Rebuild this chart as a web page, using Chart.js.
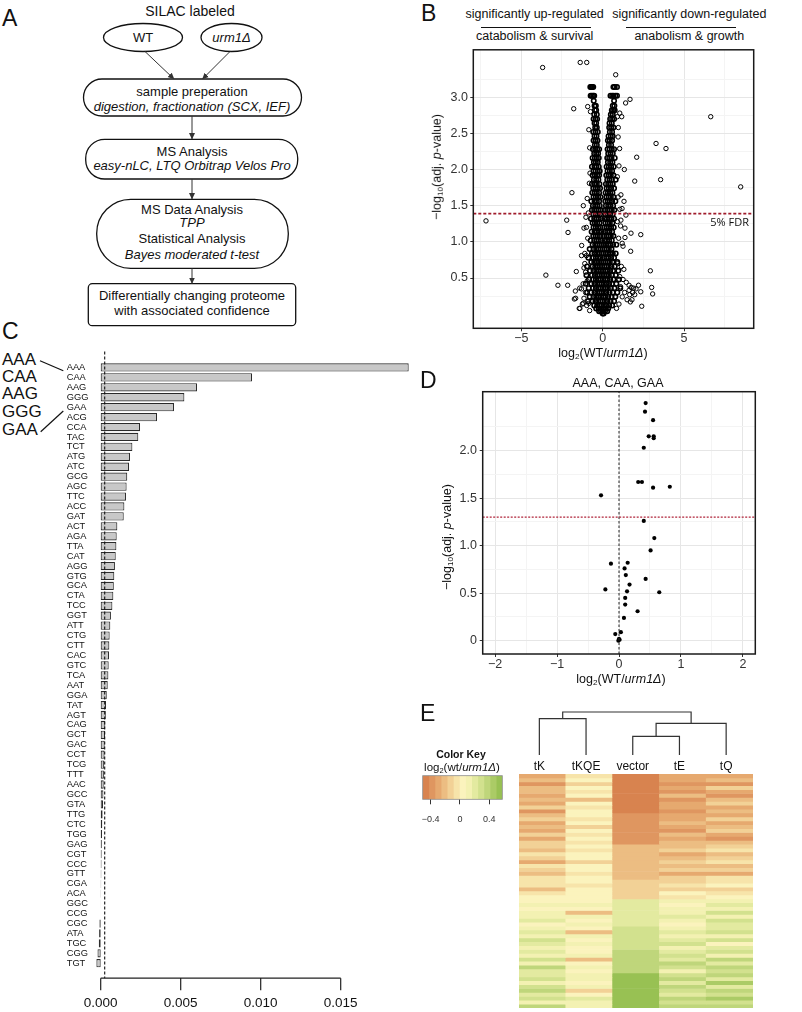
<!DOCTYPE html>
<html>
<head>
<meta charset="utf-8">
<script src="https://cdn.jsdelivr.net/npm/chart.js@4.4.1/dist/chart.umd.min.js"></script>
<style>
  body { margin: 0; background: #fff; }
  #page { position: relative; width: 802px; height: 1012px; overflow: hidden; background: #fff;
          font-family: 'Liberation Sans', Arial, sans-serif; color: #111; }
  canvas, svg { position: absolute; }
  .t { position: absolute; white-space: nowrap; line-height: 1; }
  .c { transform: translate(-50%, -50%); }
  .r { transform: translate(-50%, -50%) rotate(-90deg); }
  .letter { font-size: 23px; }
  sub { font-size: 0.65em; vertical-align: -0.3em; line-height: 0; }
  .rule { position: absolute; height: 0; border-top: 1.3px solid #111; }
</style>
</head>
<body>
<div id="page">

  <!-- ── Panel A: workflow ─────────────────────────────────────────── -->
  <div class="t letter" style="left:2px;top:7px">A</div>
  <svg style="left:0;top:0" width="400" height="330" font-family="'Liberation Sans', Arial, sans-serif" font-size="13" text-anchor="middle" fill="#111">
    <defs>
      <marker id="ah" markerWidth="7" markerHeight="7" refX="6" refY="3.5" orient="auto" markerUnits="userSpaceOnUse">
        <path d="M0,0.5 L6.5,3.5 L0,6.5 z" fill="#333"/>
      </marker>
    </defs>
    <g fill="none" stroke="#111" stroke-width="1.3">
      <ellipse cx="143" cy="37.5" rx="39.5" ry="14"/>
      <ellipse cx="231.5" cy="37.5" rx="30.5" ry="14"/>
      <rect x="83.5" y="79" width="218" height="37" rx="18.5"/>
      <rect x="85.7" y="139.3" width="212" height="39.7" rx="19"/>
      <rect x="96.7" y="199.3" width="191.6" height="69" rx="34"/>
      <rect x="88.3" y="283.7" width="207.4" height="42" rx="4"/>
    </g>
    <g stroke="#333" stroke-width="1" marker-end="url(#ah)">
      <line x1="145" y1="51.5" x2="174" y2="79"/>
      <line x1="230" y1="51.5" x2="202.5" y2="79"/>
      <line x1="192" y1="116" x2="192" y2="139"/>
      <line x1="192" y1="179" x2="192" y2="199"/>
      <line x1="192" y1="268.3" x2="192" y2="283.5"/>
    </g>
    <text x="190" y="16" font-size="14">SILAC labeled</text>
    <text x="143" y="42">WT</text>
    <text x="231.5" y="42" font-style="italic">urm1Δ</text>
    <text x="192" y="95.5">sample preperation</text>
    <text x="192" y="110.5" font-style="italic">digestion, fractionation (SCX, IEF)</text>
    <text x="192" y="156">MS Analysis</text>
    <text x="192" y="170" font-style="italic">easy-nLC, LTQ Orbitrap Velos Pro</text>
    <text x="192" y="213.5">MS Data Analysis</text>
    <text x="192" y="227" font-style="italic">TPP</text>
    <text x="192" y="242.5">Statistical Analysis</text>
    <text x="192" y="258.5" font-style="italic">Bayes moderated t-test</text>
    <text x="192" y="300">Differentially changing proteome</text>
    <text x="192" y="315">with associated confidence</text>
  </svg>

  <!-- ── Panel B: volcano ─────────────────────────────────────────── -->
  <div class="t letter" style="left:421px;top:2px">B</div>
  <div class="t c" style="left:534.7px;top:13.5px;font-size:12.5px">significantly up-regulated</div>
  <div class="t c" style="left:689.3px;top:13.5px;font-size:12.5px">significantly down-regulated</div>
  <div class="rule" style="left:481px;top:26.5px;width:110px"></div>
  <div class="rule" style="left:625.7px;top:26.5px;width:110.3px"></div>
  <div class="t c" style="left:534.7px;top:35.5px;font-size:12.5px">catabolism &amp; survival</div>
  <div class="t c" style="left:689.3px;top:35.5px;font-size:12.5px">anabolism &amp; growth</div>
  <canvas id="chartB" width="402" height="330" style="left:400px;top:40px"></canvas>
  <div class="t r" style="left:436.7px;top:167px;font-size:12.5px">−log<sub>10</sub>(adj. <i>p</i>-value)</div>
  <div class="t c" style="left:603px;top:353px;font-size:12.5px">log<sub>2</sub>(WT/<i>urm1Δ</i>)</div>
  <div class="t" style="right:53px;top:216px;font-size:11px;font-family:'Open Sans',sans-serif">5% FDR</div>

  <!-- ── Panel C: codon bars ──────────────────────────────────────── -->
  <div class="t letter" style="left:2px;top:320px">C</div>
  <svg style="left:0;top:340px" width="70" height="110" font-family="'Liberation Sans', Arial, sans-serif" font-size="17" fill="#111">
    <text x="2" y="25">AAA</text>
    <text x="2" y="42.3">CAA</text>
    <text x="2" y="59.3">AAG</text>
    <text x="2" y="77.3">GGG</text>
    <text x="2" y="95">GAA</text>
    <line x1="40" y1="20.7" x2="63.3" y2="30.7" stroke="#111" stroke-width="1.2"/>
    <line x1="40.7" y1="91.7" x2="63.3" y2="71" stroke="#111" stroke-width="1.2"/>
  </svg>
  <canvas id="chartC" width="420" height="672" style="left:0;top:340px"></canvas>

  <!-- ── Panel D: codon subset volcano ────────────────────────────── -->
  <div class="t letter" style="left:420px;top:369px">D</div>
  <div class="t c" style="left:618px;top:383px;font-size:12.5px">AAA, CAA, GAA</div>
  <canvas id="chartD" width="402" height="320" style="left:400px;top:370px"></canvas>
  <div class="t r" style="left:446.7px;top:536.7px;font-size:12.5px">−log<sub>10</sub>(adj. <i>p</i>-value)</div>
  <div class="t c" style="left:621px;top:679px;font-size:12.5px">log<sub>2</sub>(WT/<i>urm1Δ</i>)</div>

  <!-- ── Panel E: heatmap ─────────────────────────────────────────── -->
  <div class="t letter" style="left:420px;top:702px">E</div>
  <div class="t c" style="left:461px;top:754px;font-size:10.5px;font-weight:bold">Color Key</div>
  <div class="t c" style="left:462px;top:768px;font-size:11.5px">log<sub>2</sub>(wt/<i>urm1Δ</i>)</div>
  <canvas id="chartKey" width="95" height="60" style="left:415px;top:770px"></canvas>
  <canvas id="chartDendro" width="250" height="72" style="left:512px;top:705px"></canvas>
  <canvas id="chartE" width="234" height="234" style="left:519px;top:774px"></canvas>
</div>

<script>
// ── Data: panel B (volcano, all quantified proteins) ────────────────────────
const volcanoOutliers = [
  [-7.17,1.29],[-3.69,3.41],[-1.38,3.48],[-0.98,3.48],[0.80,3.31],[1.68,2.97],[1.41,2.92],[-1.78,2.84],
  [-0.92,2.87],[6.64,2.73],[1.17,2.73],[0.90,2.73],[0.96,2.58],[3.28,2.36],[3.89,2.29],[1.04,2.29],
  [2.09,2.17],[1.33,2.00],[1.97,1.84],[3.56,1.86],[8.48,1.76],[-0.82,1.81],[-1.89,1.68],[1.12,1.65],
  [1.31,1.56],[-1.19,1.50],[1.19,1.46],[-2.21,1.30],[-1.03,1.34],[1.12,1.30],[1.43,1.37],[-2.13,1.13],
  [-1.15,1.19],[1.37,1.19],[2.34,1.10],[1.74,1.12],[1.37,1.06],[-1.29,0.95],[1.25,0.94],[1.72,0.87],
  [-1.10,0.84],[-1.00,0.81],[-1.30,0.81],[-1.62,0.59],[-3.49,0.54],[2.93,0.60],[-1.15,0.64],[-1.05,0.58],
  [-2.75,0.40],[-2.15,0.40],[-1.68,0.32],[-1.41,0.36],[-1.74,0.21],[-1.44,0.08],[-1.20,0.15],[-0.85,0.15],
  [1.62,0.40],[1.75,0.37],[1.90,0.36],[2.20,0.40],[2.05,0.35],[2.34,0.31],[3.01,0.37],[3.07,0.28],
  [1.62,0.33],[1.84,0.30],[1.66,0.27],[1.97,0.27],[1.80,0.20],[1.70,0.17],[2.40,0.11],[-1.66,0.22],
  [-1.40,0.08],[0.95,1.62],[1.05,1.45],[0.90,1.28],[1.10,1.22],[0.98,1.05],[1.20,0.98],[0.92,0.70],
  [1.15,0.66],[1.30,0.62],[1.05,0.52],[1.25,0.48],[1.45,0.44],[1.10,0.38],[1.35,0.30],[1.20,0.24],
  [1.50,0.20],[1.00,0.14],[0.85,0.08],[-0.95,1.60],[-0.88,1.40],[-1.00,1.20],[-0.92,1.05],[-1.10,0.70],
  [-0.95,0.46],[-1.20,0.42],[-1.30,0.35],[-1.05,0.30],[-1.15,0.22],[-0.98,0.12],[-1.25,0.14],[-0.80,0.05],
  [-0.85,2.55],[-0.80,2.30],[0.95,2.45],[1.00,2.05],[-0.78,1.95],[0.90,1.90],[-0.75,2.80],[1.05,2.78]
];
// dense core: each row is [y, x1, x2, ...]
const volcanoCore = [
  [3.14, -0.76,-0.70,-0.64,-0.58, 0.66,0.74,0.88],
  [3.02, -0.74,-0.66,-0.58,-0.52, 0.48,0.58,0.66,0.78,0.88],
  [2.95, -0.55, 0.70],
  [2.88, -0.50,-0.42, 0.62,0.72],
  [2.82, -0.48,-0.40, 0.56,0.64,0.74],
  [2.76, -0.52,-0.36, 0.50,0.62],
  [2.70, -0.56,-0.44,-0.34, 0.46,0.58,0.70],
  [2.64, -0.50,-0.40, 0.42,0.56],
  [2.58, -0.46,-0.36, 0.40,0.52,0.66],
  [2.52, -0.58,-0.44,-0.30, 0.44,0.58],
  [2.46, -0.50,-0.38, 0.36,0.50,0.62],
  [2.40, -0.56,-0.44,-0.32, 0.32,0.44,0.58],
  [2.34, -0.48,-0.36, 0.38,0.52],
  [2.28, -0.60,-0.46,-0.34,-0.22, 0.30,0.42,0.56,0.70],
  [2.22, -0.52,-0.40,-0.28, 0.34,0.48,0.62],
  [2.16, -0.62,-0.48,-0.36,-0.24, 0.28,0.40,0.54,0.74],
  [2.10, -0.54,-0.42,-0.30, 0.32,0.46,0.60],
  [2.04, -0.66,-0.50,-0.38,-0.24, 0.24,0.38,0.52,0.68],
  [1.98, -0.56,-0.44,-0.30,-0.18, 0.30,0.44,0.58],
  [1.92, -0.62,-0.48,-0.34,-0.22, 0.22,0.36,0.50,0.66],
  [1.86, -0.54,-0.40,-0.26, 0.28,0.42,0.56,0.80],
  [1.80, -0.66,-0.50,-0.36,-0.20, 0.20,0.34,0.48,0.62],
  [1.74, -0.58,-0.44,-0.30,-0.16, 0.24,0.38,0.52,0.70],
  [1.68, -0.64,-0.50,-0.36,-0.22, 0.18,0.32,0.46,0.60],
  [1.62, -0.56,-0.42,-0.28,-0.14, 0.22,0.36,0.50,0.66],
  [1.56, -0.70,-0.50,-0.36,-0.22, 0.16,0.30,0.44,0.58,0.78],
  [1.50, -0.60,-0.46,-0.32,-0.18, 0.20,0.34,0.48,0.64],
  [1.44, -0.66,-0.52,-0.38,-0.24,-0.12, 0.14,0.28,0.42,0.56,0.72],
  [1.38, -0.58,-0.44,-0.30,-0.16, 0.18,0.32,0.46,0.62],
  [1.32, -0.72,-0.52,-0.38,-0.24,-0.10, 0.12,0.26,0.40,0.54,0.70],
  [1.26, -0.62,-0.48,-0.34,-0.20, 0.16,0.30,0.44,0.60],
  [1.20, -0.56,-0.42,-0.28,-0.14, 0.10,0.24,0.38,0.52,0.68],
  [1.14, -0.68,-0.50,-0.36,-0.22,-0.08, 0.14,0.28,0.42,0.58],
  [1.08, -0.58,-0.44,-0.30,-0.16, 0.08,0.22,0.36,0.50,0.66],
  [1.02, -0.74,-0.52,-0.38,-0.24,-0.10, 0.12,0.26,0.40,0.56],
  [0.96, -0.62,-0.46,-0.32,-0.18,-0.06, 0.06,0.20,0.34,0.48,0.64,0.84],
  [0.90, -0.80,-0.56,-0.40,-0.26,-0.12, 0.10,0.24,0.38,0.54],
  [0.84, -0.66,-0.50,-0.34,-0.20,-0.06, 0.04,0.18,0.32,0.46,0.62,0.80],
  [0.78, -0.88,-0.58,-0.42,-0.28,-0.14, 0.08,0.22,0.36,0.52,0.70],
  [0.72, -0.70,-0.52,-0.36,-0.22,-0.08, 0.04,0.16,0.30,0.44,0.60,0.90],
  [0.66, -0.96,-0.62,-0.46,-0.30,-0.16,-0.04, 0.10,0.24,0.38,0.54,0.74],
  [0.60, -0.78,-0.56,-0.40,-0.24,-0.10, 0.02,0.16,0.30,0.46,0.64,0.96],
  [0.54, -1.00,-0.66,-0.48,-0.32,-0.18,-0.04, 0.08,0.22,0.38,0.56,0.80],
  [0.48, -0.84,-0.58,-0.42,-0.26,-0.12, 0.02,0.16,0.30,0.46,0.66,1.00],
  [0.42, -1.04,-0.70,-0.50,-0.34,-0.20,-0.06, 0.08,0.24,0.40,0.58,0.84],
  [0.36, -0.86,-0.60,-0.42,-0.26,-0.12, 0.02,0.16,0.32,0.50,0.72,1.08],
  [0.30, -0.96,-0.70,-0.50,-0.34,-0.20,-0.06, 0.08,0.24,0.42,0.62,0.90],
  [0.24, -0.80,-0.56,-0.40,-0.24,-0.10, 0.04,0.18,0.34,0.54,0.78],
  [0.18, -0.90,-0.62,-0.44,-0.28,-0.14, 0.00,0.14,0.30,0.48,0.70],
  [0.12, -0.52,-0.34,-0.18,-0.06, 0.08,0.22,0.40,0.58],
  [0.08, -0.40,-0.24,-0.10, 0.04,0.18,0.34],
  [0.04, -0.22,-0.10, 0.02,0.14,0.28],
  [0.01, 0.00,0.06]
];
const fdrB = 1.39;
const xLimB = [-7.95, 9.28];
const yLimB = [-0.195, 3.655];
const xMajorB = [-5, 0, 5];
const xMinorB = [-7.5, -2.5, 2.5, 7.5];
const yMajorB = [0.5, 1, 1.5, 2, 2.5, 3];
const yMinorB = [0.25, 0.75, 1.25, 1.75, 2.25, 2.75, 3.25];

// ── Data: panel C (codon enrichment) ───────────────────────────────────────
const codons = ['AAA','CAA','AAG','GGG','GAA','ACG','CCA','TAC','TCT','ATG','ATC','GCG','AGC','TTC','ACC','GAT',
  'ACT','AGA','TTA','CAT','AGG','GTG','GCA','CTA','TCC','GGT','ATT','CTG','CTT','CAC','GTC','TCA','AAT','GGA',
  'TAT','AGT','CAG','GCT','GAC','CCT','TCG','TTT','AAC','GCC','GTA','TTG','CTC','TGG','GAG','CGT','CCC','GTT',
  'CGA','ACA','GGC','CCG','CGC','ATA','TGC','CGG','TGT'];
const codonShift = [0.01925,0.00946,0.00602,0.00523,0.00458,0.00352,0.00246,0.00235,0.00198,0.00183,0.00177,
  0.00166,0.00162,0.00158,0.00148,0.00144,0.00104,0.00100,0.00098,0.00094,0.00089,0.00085,0.00082,0.00079,
  0.00073,0.00064,0.00060,0.00056,0.00054,0.00052,0.00050,0.00048,0.00044,0.00038,0.00033,0.00032,0.00029,
  0.00027,0.00025,0.00024,0.00022,0.00020,0.00019,0.00017,0.00015,0.00012,0.00010,0.00008,0.00007,0.00006,
  0.00005,0.00004,0.00003,0.00002,0.00001,0.000005,-0.00008,-0.00010,-0.00012,-0.00020,-0.00027];
const dashValueC = 0.00025;
const ticksC = [0, 0.005, 0.010, 0.015];
const xLimC = [-0.0004, 0.0195];

// ── Data: panel D (AAA, CAA, GAA proteins) ─────────────────────────────────
const codonFC = [0.43,0.42,0.55,0.48,0.56,0.56,0.40,0.31,0.37,0.55,0.82,-0.29,0.40,0.57,0.51,0.14,-0.13,
  0.09,0.11,0.43,0.17,-0.22,0.13,0.65,0.10,0.10,0.30,0.08,-0.06,0.03,0.00,-0.01,0.01];
const codonP = [2.50,2.41,2.32,2.15,2.15,2.13,2.03,1.67,1.67,1.61,1.62,1.53,1.26,1.08,0.95,0.82,0.81,
  0.76,0.69,0.65,0.59,0.54,0.52,0.51,0.45,0.38,0.31,0.24,0.07,0.09,0.02,0.00,0.01];
const fdrD = 1.30;
const xLimD = [-2.2, 2.2];
const yLimD = [-0.14, 2.62];
const xMajorD = [-2, -1, 0, 1, 2];
const xMinorD = [-1.5, -0.5, 0.5, 1.5];
const yMajorD = [0, 0.5, 1, 1.5, 2];
const yMinorD = [0.25, 0.75, 1.25, 1.75, 2.25];

// ── Data: panel E (heatmap) ────────────────────────────────────────────────
const heatLabels = ['tK', 'tKQE', 'vector', 'tE', 'tQ'];
const heatTK = [-0.30,-0.22,-0.38,-0.25,-0.18,-0.33,-0.21,-0.28,-0.14,-0.36,
  -0.24,-0.12,-0.31,-0.19,-0.26,-0.10,-0.34,-0.17,
  -0.13,-0.22,-0.08,-0.16,-0.27,-0.06,-0.12,-0.20,-0.04,
  -0.09,-0.02,-0.18,-0.05,0.02,
  0.06,0.12,0.03,0.16,0.09,0.20,0.05,
  0.14,0.22,0.10,0.26,0.17,0.08,
  0.20,0.11,0.28,0.15,0.34,0.22,
  0.18,0.30,0.12,0.26,0.36,0.21,0.32,0.16,0.40];
const heatTKQE = [-0.06,0.02,-0.12,0.05,-0.03,0.03,-0.20,0.01,-0.05,0.06,
  0.00,-0.08,0.04,-0.14,0.02,-0.02,0.05,-0.06,
  0.03,-0.04,0.06,0.01,-0.10,0.04,0.00,-0.03,0.05,
  0.02,-0.05,0.07,0.01,0.04,
  0.06,0.10,0.03,-0.18,0.08,0.04,0.12,
  0.05,-0.22,0.09,0.03,0.14,0.06,
  0.02,0.10,-0.25,0.07,0.13,0.04,
  0.08,0.15,0.03,0.11,-0.12,0.06,0.18,0.09,0.13];
const heatVector = [-0.47,-0.47,-0.47,-0.47,-0.47,-0.47,-0.47,-0.47,-0.47,-0.47,
  -0.36,-0.36,-0.36,-0.36,-0.36,-0.36,-0.36,-0.36,
  -0.24,-0.24,-0.24,-0.24,-0.24,-0.24,-0.24,-0.24,-0.24,
  -0.14,-0.14,-0.14,-0.14,-0.14,
  0.20,0.20,0.20,0.20,0.20,0.20,0.20,
  0.30,0.30,0.30,0.30,0.30,0.30,
  0.38,0.38,0.38,0.38,0.38,0.38,
  0.50,0.50,0.50,0.50,0.50,0.50,0.50,0.50,0.50];
const heatTE = [-0.33,-0.28,-0.40,-0.30,-0.36,-0.25,-0.38,-0.31,-0.27,-0.35,
  -0.26,-0.32,-0.20,-0.29,-0.36,-0.22,-0.28,-0.18,
  -0.22,-0.14,-0.26,-0.18,-0.10,-0.24,-0.16,-0.30,-0.12,
  -0.10,-0.04,-0.16,0.00,-0.08,
  0.10,0.04,0.16,0.08,0.20,0.12,0.06,
  0.14,0.24,0.10,0.20,0.28,0.16,
  0.22,0.30,0.18,0.34,0.26,0.14,
  0.26,0.34,0.20,0.38,0.30,0.24,0.40,0.32,0.36];
const heatTQ = [-0.30,-0.20,-0.36,-0.14,-0.26,-0.40,-0.22,-0.10,-0.32,-0.18,
  -0.28,-0.16,-0.34,-0.24,-0.12,-0.30,-0.38,-0.20,
  -0.16,-0.08,-0.22,-0.12,-0.04,-0.18,-0.10,-0.26,-0.06,
  -0.08,0.00,-0.14,-0.02,0.04,
  0.14,0.22,0.08,0.26,0.12,0.30,0.18,
  0.20,0.32,0.12,0.26,0.06,0.22,
  0.28,0.16,0.36,0.22,0.40,0.30,
  0.34,0.24,0.42,0.18,0.36,0.28,0.44,0.32,0.38];
// dendrogram merges: [x of left child, height of left child, x of right child, height of right child, merge height]
const dendroMerges = [
  [2, 0, 3, 0, 0.435],
  [2.5, 0.435, 4, 0, 0.737],
  [0, 0, 1, 0, 0.844],
  [0.5, 0.844, 3.25, 0.737, 1.0]
];
const keyColors = ['#d8834f','#df9660','#e6a96f','#ecbd82','#f2d196','#f7e4aa','#fbf3bd',
  '#f3f1b2','#e3eaa0','#d2e18e','#bfd67b','#abcb66','#98c153'];
const keyMin = -0.51, keyMax = 0.58;
const keyTicks = [-0.4, 0, 0.4];

// ── Helpers ────────────────────────────────────────────────────────────────
Chart.defaults.font.family = "'Liberation Sans', Arial, sans-serif";
Chart.defaults.color = '#333';
Chart.defaults.animation = false;
Chart.defaults.plugins.legend.display = false;
Chart.defaults.plugins.tooltip.enabled = false;

const minus = v => (v < 0 ? '\u2212' + Math.abs(v) : String(v));
const keyStep = (keyMax - keyMin) / keyColors.length;

function colorFor(v) {
  const n = keyColors.length;
  let i = Math.floor((v - keyMin) / (keyMax - keyMin) * n);
  return keyColors[Math.max(0, Math.min(n - 1, i))];
}

// ggplot-like axis: major ticks labelled, minor ticks only as faint grid lines
function ggAxis(min, max, major, minor, fmt, sizeKey, size, pad) {
  const isMinor = c => c.tick && minor.includes(c.tick.value);
  return {
    type: 'linear', min, max,
    afterBuildTicks: ax => { ax.ticks = major.concat(minor).sort((a, b) => a - b).map(v => ({ value: v })); },
    afterFit: ax => { ax[sizeKey] = size; },
    ticks: { autoSkip: false, maxRotation: 0, color: '#333', font: { size: 12.5 }, padding: pad,
             callback: v => (major.includes(v) ? fmt(v) : '') },
    grid: { color: c => (isMinor(c) ? '#f4f4f4' : '#e6e6e6'),
            tickColor: c => (isMinor(c) ? 'rgba(0,0,0,0)' : '#333'), tickLength: 3, lineWidth: 1 },
    border: { display: false }
  };
}

// box around the plotting area
Chart.register({
  id: 'frame',
  afterDatasetsDraw(chart, args, opts) {
    if (!opts.color) return;
    const { left, top, right, bottom } = chart.chartArea;
    const ctx = chart.ctx;
    ctx.save();
    ctx.strokeStyle = opts.color;
    ctx.lineWidth = opts.width || 1;
    ctx.strokeRect(left, top, right - left, bottom - top);
    ctx.restore();
  }
});

// base-R style x axis and dashed reference line for panel C
const rAxisC = {
  id: 'rAxisC',
  afterDatasetsDraw(chart) {
    const { ctx, chartArea: a, scales: { x } } = chart;
    ctx.save();
    const px = x.getPixelForValue(dashValueC);
    ctx.setLineDash([3, 2]);
    ctx.lineWidth = 1.1;
    ctx.strokeStyle = '#111';
    ctx.beginPath();
    ctx.moveTo(px, a.top - 11);
    ctx.lineTo(px, a.bottom + 10);
    ctx.stroke();
    ctx.setLineDash([]);
    const y0 = a.bottom + 10;
    ctx.lineWidth = 1.2;
    ctx.strokeStyle = '#222';
    ctx.beginPath();
    ctx.moveTo(x.getPixelForValue(ticksC[0]), y0);
    ctx.lineTo(x.getPixelForValue(ticksC[ticksC.length - 1]), y0);
    ticksC.forEach(v => { const p = x.getPixelForValue(v); ctx.moveTo(p, y0); ctx.lineTo(p, y0 + 12); });
    ctx.stroke();
    ctx.fillStyle = '#111';
    ctx.font = "13.5px 'Liberation Sans', Arial, sans-serif";
    ctx.textAlign = 'center';
    ctx.textBaseline = 'middle';
    ticksC.forEach(v => ctx.fillText(v.toFixed(3), x.getPixelForValue(v), y0 + 25));
    ctx.restore();
  }
};

// ── Panel B ────────────────────────────────────────────────────────────────
const outlierPoints = volcanoOutliers.map(p => ({ x: p[0], y: p[1] }));
const corePoints = [];
volcanoCore.forEach(row => row.slice(1).forEach(x => corePoints.push({ x, y: row[0] })));

new Chart(document.getElementById('chartB'), {
  type: 'scatter',
  data: {
    datasets: [
      { data: corePoints, order: 2, pointRadius: 2.2, borderWidth: 1.6, borderColor: '#000',
        backgroundColor: 'rgba(0,0,0,0)' },
      { data: outlierPoints, order: 1, pointRadius: 2.2, borderWidth: 1, borderColor: '#000',
        backgroundColor: 'rgba(0,0,0,0)' },
      { data: [{ x: xLimB[0], y: fdrB }, { x: xLimB[1], y: fdrB }], order: 0, showLine: true,
        borderColor: '#a01c2c', borderWidth: 1.7, borderDash: [3, 2], pointRadius: 0 }
    ]
  },
  options: {
    responsive: false,
    layout: { padding: { top: 9, right: 48.3 } },
    plugins: { frame: { color: '#1a1a1a', width: 1.5 } },
    scales: {
      x: ggAxis(xLimB[0], xLimB[1], xMajorB, xMinorB, minus, 'height', 41.7, 0),
      y: ggAxis(yLimB[0], yLimB[1], yMajorB, yMinorB, v => v.toFixed(1), 'width', 73.3, 2.3)
    }
  }
});

// ── Panel C ────────────────────────────────────────────────────────────────
new Chart(document.getElementById('chartC'), {
  type: 'bar',
  data: {
    labels: codons,
    datasets: [{ data: codonShift, backgroundColor: '#c8c8c8', borderColor: '#2b2b2b', borderWidth: 1.1,
                 borderSkipped: false, barPercentage: 0.833, categoryPercentage: 1 }]
  },
  options: {
    indexAxis: 'y',
    responsive: false,
    layout: { padding: { left: 66.7, right: 7.3, top: 22.5, bottom: 43.8 } },
    scales: {
      x: { type: 'linear', display: false, min: xLimC[0], max: xLimC[1] },
      y: { afterFit: ax => { ax.width = 27.6; }, grid: { display: false, drawTicks: false },
           border: { display: false },
           ticks: { autoSkip: false, crossAlign: 'far', padding: 0, color: '#111', font: { size: 9.3 } } }
    }
  },
  plugins: [rAxisC]
});

// ── Panel D ────────────────────────────────────────────────────────────────
new Chart(document.getElementById('chartD'), {
  type: 'scatter',
  data: {
    datasets: [
      { data: codonFC.map((x, i) => ({ x, y: codonP[i] })), order: 2, pointRadius: 2.1, borderWidth: 0,
        backgroundColor: '#000' },
      { data: [{ x: 0, y: yLimD[0] }, { x: 0, y: yLimD[1] }], order: 1, showLine: true, borderColor: '#222',
        borderWidth: 1, borderDash: [2.5, 2], pointRadius: 0 },
      { data: [{ x: xLimD[0], y: fdrD }, { x: xLimD[1], y: fdrD }], order: 0, showLine: true,
        borderColor: '#b0243a', borderWidth: 1.3, borderDash: [2, 1.5], pointRadius: 0 }
    ]
  },
  options: {
    responsive: false,
    layout: { padding: { top: 21.7, right: 46.7 } },
    plugins: { frame: { color: '#1a1a1a', width: 1.5 } },
    scales: {
      x: ggAxis(xLimD[0], xLimD[1], xMajorD, xMinorD, minus, 'height', 36, 0),
      y: ggAxis(yLimD[0], yLimD[1], yMajorD, yMinorD, v => (v === 0 ? '0' : v.toFixed(1)), 'width', 82.7, 2.7)
    }
  }
});

// ── Panel E: colour key (one floating bar per colour bin on the value axis) ─
new Chart(document.getElementById('chartKey'), {
  type: 'bar',
  data: {
    labels: ['key'],
    datasets: keyColors.map((c, i) => ({
      data: [[keyMin + i * keyStep, keyMin + (i + 1) * keyStep]],
      backgroundColor: c, borderWidth: 0, grouped: false, barPercentage: 1, categoryPercentage: 1
    }))
  },
  options: {
    indexAxis: 'y',
    responsive: false,
    layout: { padding: { left: 7.7, right: 7.7, top: 5.7 } },
    plugins: { frame: { color: '#8a8a8a', width: 0.8 } },
    scales: {
      y: { display: false },
      x: { type: 'linear', min: keyMin, max: keyMax, offset: false, beginAtZero: false,
           afterBuildTicks: ax => { ax.ticks = keyTicks.map(v => ({ value: v })); },
           afterFit: ax => { ax.height = 30.7; },
           grid: { drawOnChartArea: false, offset: false, tickLength: 5, tickColor: '#333', color: '#333' },
           border: { display: false },
           ticks: { padding: 0, font: { size: 9, lineHeight: 3.3 }, color: '#333', callback: v => minus(v) } }
    }
  }
});

// ── Panel E: dendrogram + column labels ────────────────────────────────────
new Chart(document.getElementById('chartDendro'), {
  type: 'scatter',
  data: {
    datasets: dendroMerges.map(m => ({
      data: [{ x: m[0], y: m[1] }, { x: m[0], y: m[4] }, { x: m[2], y: m[4] }, { x: m[2], y: m[3] }],
      showLine: true, borderColor: '#333', borderWidth: 1.2, pointRadius: 0, clip: false
    }))
  },
  options: {
    responsive: false,
    layout: { padding: { left: 4, right: 12.5, top: 5.7 } },
    scales: {
      x: { type: 'linear', min: -0.5, max: heatLabels.length - 0.5,
           afterBuildTicks: ax => { ax.ticks = heatLabels.map((l, i) => ({ value: i })); },
           afterFit: ax => { ax.height = 22; },
           grid: { display: false, drawTicks: false }, border: { display: false },
           ticks: { padding: 4, color: '#111', font: { size: 12 }, callback: v => heatLabels[v] } },
      y: { display: false, min: 0, max: 1.03 }
    }
  }
});

// ── Panel E: heatmap cells ─────────────────────────────────────────────────
const heatCols = [heatTK, heatTKQE, heatVector, heatTE, heatTQ];
new Chart(document.getElementById('chartE'), {
  type: 'bar',
  data: {
    labels: heatLabels,
    datasets: heatTK.map((_, r) => ({
      data: heatCols.map(() => 1),
      backgroundColor: heatCols.map(col => colorFor(col[r])),
      borderWidth: 0, barPercentage: 1, categoryPercentage: 1
    }))
  },
  options: {
    responsive: false,
    layout: { padding: 0 },
    scales: {
      x: { display: false, stacked: true },
      y: { display: false, stacked: true, min: 0, max: heatTK.length, reverse: true }
    }
  }
});
</script>
</body>
</html>
